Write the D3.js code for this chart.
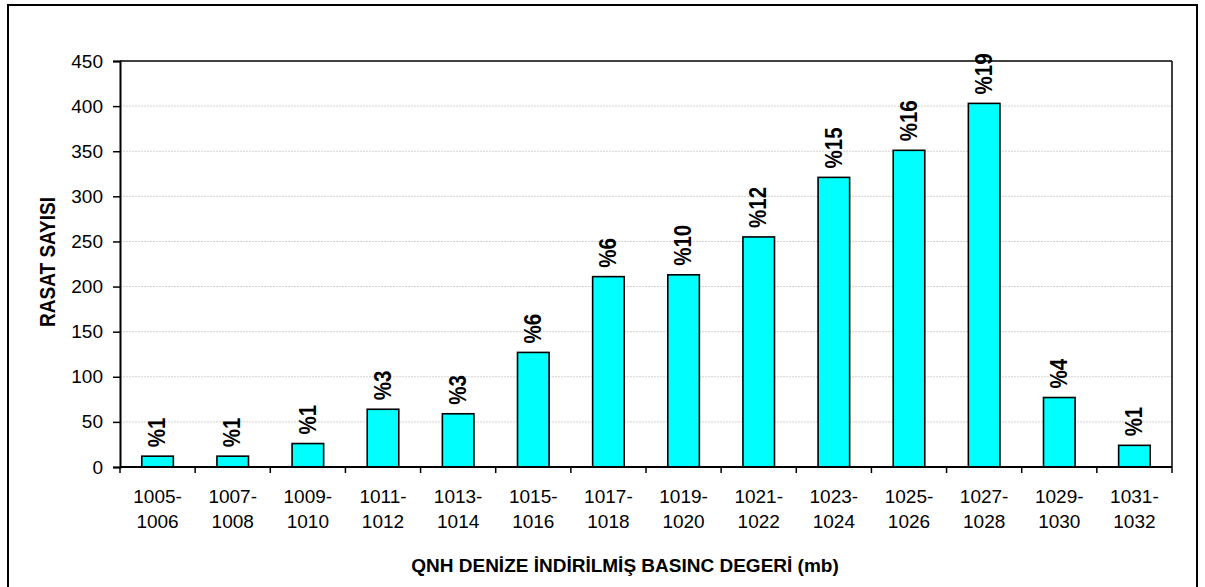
<!DOCTYPE html>
<html><head><meta charset="utf-8">
<script src="https://cdn.jsdelivr.net/npm/d3@7"></script>
<style>
html,body{margin:0;padding:0;background:#fff;}
svg{display:block;}
text{font-family:"Liberation Sans",Arial,sans-serif;fill:#000;}
</style></head>
<body>
<svg id="chart" width="1205" height="587"></svg>
<script>
const categories = ["1005-1006","1007-1008","1009-1010","1011-1012","1013-1014","1015-1016","1017-1018","1019-1020","1021-1022","1023-1024","1025-1026","1027-1028","1029-1030","1031-1032"];
const counts = [12, 12, 26, 64, 59, 127, 211, 213, 255, 321, 351, 403, 77, 24];
const percentLabels = ["%1","%1","%1","%3","%3","%6","%6","%10","%12","%15","%16","%19","%4","%1"];
const yTicks = [0,50,100,150,200,250,300,350,400,450];
const yTitle = "RASAT SAYISI";
const xTitle = "QNH DENİZE İNDİRİLMİŞ BASINC DEGERİ (mb)";

const svg = d3.select("#chart");
const L = 120, R = 1172, T = 61, B = 467;

// outer border
svg.append("rect").attr("x",8).attr("y",5).attr("width",1189).attr("height",600)
  .attr("fill","none").attr("stroke","#000").attr("stroke-width",2);

const x = d3.scaleBand().domain(categories).range([L,R]).paddingInner(0.58).paddingOuter(0.29);
const xb = d3.scaleBand().domain(categories).range([L,R]).padding(0);
const y = d3.scaleLinear().domain([0,450]).range([B,T]);

// gridlines
svg.append("g").selectAll("line").data(yTicks.filter(d=>d>0 && d<450)).join("line")
  .attr("x1",L).attr("x2",R).attr("y1",d=>y(d)).attr("y2",d=>y(d))
  .attr("stroke","#d2d2d2").attr("stroke-width",1).attr("stroke-dasharray","2,1");

// plot border top & right
svg.append("line").attr("x1",L).attr("x2",R).attr("y1",T).attr("y2",T).attr("stroke","#000").attr("stroke-width",1.5);
svg.append("line").attr("x1",R).attr("x2",R).attr("y1",T).attr("y2",B).attr("stroke","#000").attr("stroke-width",1.5);

// bars
svg.append("g").selectAll("rect").data(categories).join("rect")
  .attr("x",d=>x(d)).attr("width",x.bandwidth())
  .attr("y",(d,i)=>y(counts[i])).attr("height",(d,i)=>B-y(counts[i]))
  .attr("fill","#00ffff").attr("stroke","#000").attr("stroke-width",1.6);

// value labels
svg.append("g").selectAll("text").data(categories).join("text")
  .attr("transform",(d,i)=>`translate(${x(d)+x.bandwidth()/2-1},${y(counts[i])-9}) rotate(-90) scale(1,1.18)`)
  .attr("dy","0.36em")
  .attr("font-size",20.5).attr("font-weight","bold")
  .text((d,i)=>percentLabels[i]);

// y axis
const yAxis = d3.axisLeft(y).tickValues(yTicks).tickSize(7).tickPadding(10);
const gy = svg.append("g").attr("transform",`translate(${L},0)`).call(yAxis);
gy.select(".domain").attr("stroke","#000").attr("stroke-width",2);
gy.selectAll(".tick line").attr("stroke","#000").attr("stroke-width",1.5);
gy.selectAll(".tick text").attr("font-size",19).attr("font-family","Liberation Sans, Arial, sans-serif").attr("fill","#000");

// x axis
const gx = svg.append("g").attr("transform",`translate(0,${B})`);
gx.append("line").attr("x1",L).attr("x2",R).attr("y1",0).attr("y2",0).attr("stroke","#000").attr("stroke-width",2);
const bounds = categories.map(d=>xb(d)).concat([R]);
gx.selectAll("line.tk").data(bounds).join("line").attr("class","tk")
  .attr("x1",d=>d).attr("x2",d=>d).attr("y1",0).attr("y2",6).attr("stroke","#000").attr("stroke-width",1.5);
const lbl = gx.selectAll("text.cat").data(categories).join("text").attr("class","cat")
  .attr("text-anchor","middle").attr("font-size",19);
lbl.each(function(d){
  const parts = d.split("-");
  const t = d3.select(this);
  const cx = xb(d)+xb.bandwidth()/2;
  t.append("tspan").attr("x",cx).attr("y",36).text(parts[0]+"-");
  t.append("tspan").attr("x",cx).attr("y",61).text(parts[1]);
});

// titles
svg.append("text").attr("transform","translate(47,262) rotate(-90) scale(1,1.15)")
  .attr("text-anchor","middle").attr("dy","0.36em").attr("font-size",19).attr("font-weight","bold").text(yTitle);
svg.append("text").attr("x",625).attr("y",572).attr("text-anchor","middle")
  .attr("font-size",19).attr("font-weight","bold").text(xTitle);
</script>
</body></html>
